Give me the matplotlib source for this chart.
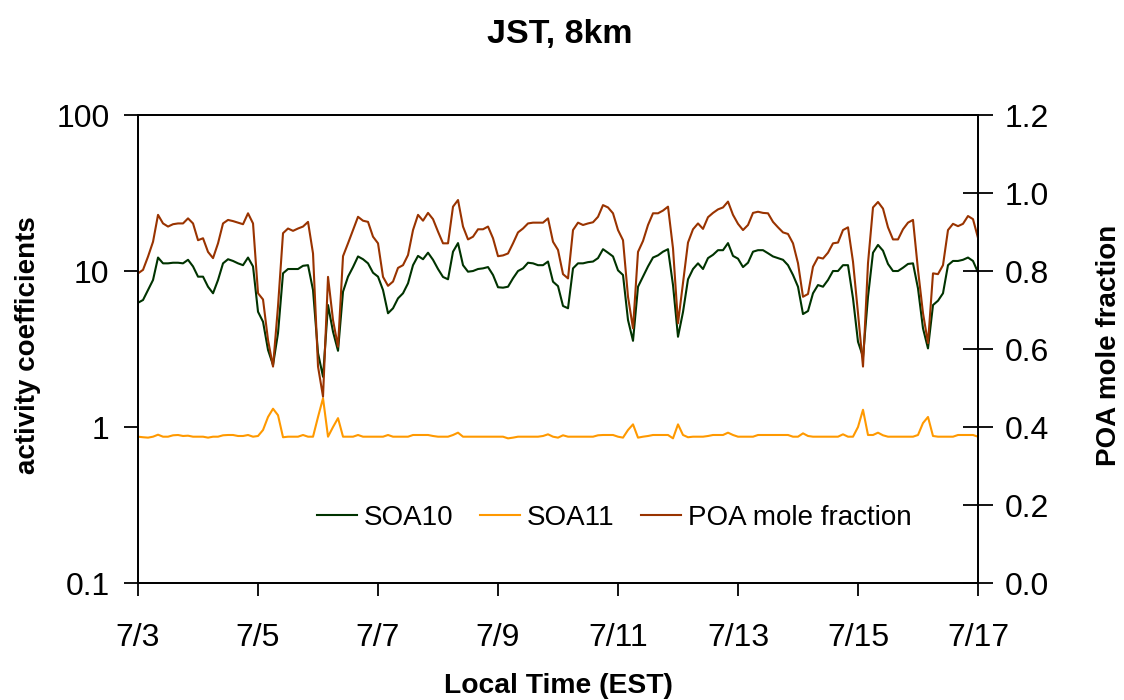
import matplotlib
matplotlib.use("Agg")
import matplotlib.pyplot as plt
import matplotlib.dates as mdates
from matplotlib.ticker import FixedLocator, FuncFormatter, NullLocator
import numpy as np
import pandas as pd

plt.rcParams["font.family"] = ["Liberation Sans", "DejaVu Sans"]

# 2-hourly model output at the JST site, 7/3 00:00 through 7/17 00:00 (one row per day)
times = pd.date_range("2004-07-03 00:00", "2004-07-17 00:00", freq="2h")

soa10 = [
    6.26, 6.52, 7.55, 8.76, 12.2, 11.2, 11.2, 11.3, 11.3, 11.2, 11.8, 10.7,
    9.2, 9.2, 7.93, 7.2, 8.76, 11.2, 11.9, 11.6, 11.2, 10.9, 12.2, 10.7,
    5.48, 4.73, 3.12, 2.5, 4.0, 9.67, 10.3, 10.3, 10.3, 10.8, 10.9, 7.55,
    2.98, 2.1, 6.05, 4.08, 3.08, 7.37, 9.2, 10.6, 12.4, 11.9, 11.2, 9.75,
    9.2, 7.55, 5.36, 5.77, 6.68, 7.2, 8.34, 10.9, 12.5, 11.9, 13.1, 11.8,
    10.3, 9.16, 8.85, 13.3, 15.1, 10.9, 9.9, 10.0, 10.3, 10.4, 10.6, 9.43,
    7.87, 7.82, 7.93, 8.98, 10.0, 10.4, 11.3, 11.2, 10.9, 10.9, 11.5, 8.54,
    8.0, 5.97, 5.77, 10.4, 11.2, 11.2, 11.4, 11.5, 12.1, 13.8, 13.1, 12.4,
    10.1, 9.43, 4.85, 3.57, 7.93, 9.2, 10.7, 12.2, 12.6, 13.3, 13.8, 8.13,
    3.79, 5.46, 8.85, 10.3, 11.2, 10.3, 12.1, 12.7, 13.6, 13.6, 15.1, 12.5,
    12.0, 10.6, 11.3, 13.3, 13.6, 13.6, 13.0, 12.4, 12.1, 11.8, 10.9, 9.43,
    7.93, 5.3, 5.54, 7.2, 8.13, 7.93, 8.76, 10.0, 10.0, 10.9, 10.9, 6.68,
    3.52, 2.82, 6.84, 13.1, 14.7, 13.5, 11.1, 10.0, 10.0, 10.5, 11.1, 11.2,
    7.74, 4.29, 3.19, 6.05, 6.45, 7.2, 10.9, 11.6, 11.6, 11.8, 12.2, 11.6,
    9.8,
]

soa11 = [
    0.867, 0.86, 0.855, 0.867, 0.893, 0.867, 0.867, 0.885, 0.889, 0.876, 0.88, 0.867,
    0.867, 0.867, 0.855, 0.867, 0.867, 0.885, 0.889, 0.889, 0.876, 0.876, 0.889, 0.867,
    0.876, 0.957, 1.16, 1.31, 1.19, 0.86, 0.867, 0.867, 0.867, 0.889, 0.867, 0.867,
    1.16, 1.53, 0.867, 1.00, 1.14, 0.867, 0.867, 0.867, 0.889, 0.867, 0.867, 0.867,
    0.867, 0.867, 0.889, 0.867, 0.867, 0.867, 0.867, 0.889, 0.889, 0.889, 0.889, 0.876,
    0.867, 0.867, 0.867, 0.889, 0.92, 0.867, 0.867, 0.867, 0.867, 0.867, 0.867, 0.867,
    0.867, 0.867, 0.846, 0.855, 0.867, 0.867, 0.867, 0.867, 0.867, 0.876, 0.898, 0.867,
    0.855, 0.885, 0.867, 0.867, 0.867, 0.867, 0.867, 0.867, 0.885, 0.889, 0.889, 0.889,
    0.867, 0.855, 0.957, 1.04, 0.855, 0.867, 0.876, 0.889, 0.889, 0.889, 0.889, 0.846,
    1.04, 0.889, 0.86, 0.867, 0.867, 0.867, 0.876, 0.889, 0.889, 0.889, 0.92, 0.889,
    0.867, 0.867, 0.867, 0.867, 0.889, 0.889, 0.889, 0.889, 0.889, 0.889, 0.889, 0.867,
    0.867, 0.911, 0.876, 0.867, 0.867, 0.867, 0.867, 0.867, 0.867, 0.898, 0.867, 0.867,
    1.00, 1.29, 0.889, 0.889, 0.92, 0.885, 0.867, 0.867, 0.867, 0.867, 0.867, 0.867,
    0.889, 1.06, 1.16, 0.876, 0.867, 0.867, 0.867, 0.867, 0.889, 0.889, 0.889, 0.889,
    0.867,
]

poa_frac = [
    0.794, 0.803, 0.837, 0.875, 0.944, 0.922, 0.914, 0.920, 0.922, 0.922, 0.935, 0.922,
    0.879, 0.884, 0.849, 0.833, 0.871, 0.922, 0.931, 0.928, 0.924, 0.920, 0.948, 0.922,
    0.743, 0.727, 0.623, 0.555, 0.710, 0.897, 0.909, 0.903, 0.909, 0.914, 0.926, 0.845,
    0.555, 0.478, 0.785, 0.674, 0.606, 0.838, 0.871, 0.905, 0.939, 0.929, 0.926, 0.888,
    0.871, 0.785, 0.762, 0.773, 0.808, 0.815, 0.841, 0.905, 0.944, 0.929, 0.949, 0.933,
    0.901, 0.871, 0.871, 0.965, 0.982, 0.914, 0.881, 0.888, 0.907, 0.907, 0.914, 0.884,
    0.838, 0.840, 0.845, 0.871, 0.899, 0.909, 0.922, 0.924, 0.924, 0.924, 0.935, 0.875,
    0.854, 0.792, 0.781, 0.905, 0.924, 0.918, 0.922, 0.925, 0.939, 0.969, 0.963, 0.948,
    0.905, 0.879, 0.734, 0.653, 0.849, 0.877, 0.918, 0.948, 0.948, 0.955, 0.965, 0.858,
    0.666, 0.769, 0.873, 0.907, 0.922, 0.908, 0.938, 0.949, 0.958, 0.963, 0.978, 0.944,
    0.921, 0.905, 0.918, 0.949, 0.952, 0.949, 0.948, 0.926, 0.912, 0.899, 0.895, 0.871,
    0.820, 0.734, 0.741, 0.811, 0.835, 0.832, 0.847, 0.871, 0.873, 0.905, 0.912, 0.824,
    0.692, 0.555, 0.820, 0.963, 0.977, 0.960, 0.912, 0.881, 0.881, 0.907, 0.924, 0.931,
    0.803, 0.692, 0.615, 0.794, 0.792, 0.815, 0.905, 0.921, 0.915, 0.921, 0.941, 0.933,
    0.885,
]

left_ticks = [0.1, 1, 10, 100]
right_ticks = [0.0, 0.2, 0.4, 0.6, 0.8, 1.0, 1.2]
date_ticks = pd.date_range("2004-07-03", "2004-07-17", freq="2D")

GREEN = "#003300"
ORANGE = "#FF9900"
BROWN = "#993300"
LW = 1.5

fig = plt.figure(figsize=(11.24, 7), dpi=100)
ax = fig.add_axes([0.1228, 0.1671, 0.7473, 0.6686])

l1, = ax.plot(times, soa10, color=GREEN, lw=LW, label="SOA10")
l2, = ax.plot(times, soa11, color=ORANGE, lw=LW, label="SOA11")
ax.set_yscale("log")
ax.set_ylim(0.1, 100)
ax.yaxis.set_major_locator(FixedLocator(left_ticks))
ax.yaxis.set_major_formatter(FuncFormatter(lambda v, _: f"{v:g}"))
ax.yaxis.set_minor_locator(NullLocator())

ax.set_xlim(times[0], times[-1])
ax.set_xticks(date_ticks)
ax.xaxis.set_major_formatter(FuncFormatter(
    lambda v, _: f"{mdates.num2date(v).month}/{mdates.num2date(v).day}"))

ax.tick_params(axis="y", direction="out", length=10, width=1.3, labelsize=23, pad=10.5)
ax.tick_params(axis="x", direction="out", length=9, width=1.3, labelsize=23, pad=20)

ax2 = ax.twinx()
l3, = ax2.plot(times, poa_frac, color=BROWN, lw=LW, label="POA mole fraction")
ax2.set_ylim(0, 1.2)
ax2.yaxis.set_major_locator(FixedLocator(right_ticks))
ax2.yaxis.set_major_formatter(FuncFormatter(lambda v, _: f"{v:.1f}"))
ax2.tick_params(axis="y", direction="inout", length=21, width=1.3, labelsize=23, pad=8.5)

for a in (ax, ax2):
    for sp in a.spines.values():
        sp.set_linewidth(1.3)

ax2.legend(handles=[l1, l2, l3], loc="center", bbox_to_anchor=(0.567, 0.139),
           ncol=3, frameon=False, fontsize=20, handlelength=1.45,
           handletextpad=0.25, columnspacing=0.95)

fig.text(0.498, 0.95, "JST, 8km", ha="center", va="center",
         fontsize=24.5, fontweight="bold")
fig.text(0.497, 0.02, "Local Time (EST)", ha="center", va="center",
         fontsize=20.3, fontweight="bold")
fig.text(0.025, 0.507, "activity coefficients", ha="center", va="center",
         rotation=90, fontsize=20, fontweight="bold")
fig.text(0.987, 0.507, "POA mole fraction", ha="center", va="center",
         rotation=90, fontsize=20, fontweight="bold")

fig.savefig("out.png", dpi=100)
